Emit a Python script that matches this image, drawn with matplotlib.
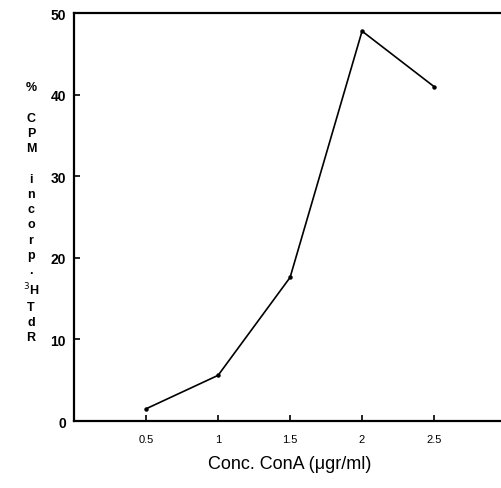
import matplotlib
matplotlib.use("Agg")
import matplotlib.pyplot as plt

# ConA dose response: % CPM incorporation of 3H-TdR
conc = [0.5, 1.0, 1.5, 2.0, 2.5]
cpm_pct = [1.5, 5.6, 17.6, 47.8, 41.0]
xticks = [0.5, 1, 1.5, 2, 2.5]
xtick_labels = ["0.5", "1", "1.5", "2", "2.5"]
yticks = [0, 10, 20, 30, 40, 50]
ylabel_chars = ["%", "", "C", "P", "M", "", "i", "n", "c", "o", "r", "p", ".",
                "$^{3}$H", "T", "d", "R"]

plt.rcParams["font.family"] = ["Liberation Sans", "DejaVu Sans"]

fig = plt.figure(figsize=(5.01, 4.89), dpi=100)
ax = fig.add_axes([0.148, 0.137, 0.862, 0.834])

ax.plot(conc, cpm_pct, color="black", lw=1.2)
ax.plot(conc, cpm_pct, "o", color="black", ms=2.2)

ax.set_xlim(0, 3.0)
ax.set_ylim(0, 50)
ax.set_xticks(xticks)
ax.set_xticklabels(xtick_labels, fontsize=8)
ax.set_yticks(yticks)
ax.set_yticklabels([str(v) for v in yticks], fontsize=10, fontweight="bold")
ax.tick_params(direction="in", length=4, width=1.2, color="black", pad=6)
ax.tick_params(axis="x", pad=9)

for side in ["left", "bottom", "top"]:
    ax.spines[side].set_linewidth(1.6)
ax.spines["right"].set_visible(False)

ax.set_xlabel("Conc. ConA (\u03bcgr/ml)", fontsize=13, labelpad=8)

# stacked upright y label
fig.text(0.062, 0.832, "\n".join(ylabel_chars), fontsize=9, fontweight="bold",
         ha="center", va="top", linespacing=1.36)

fig.savefig("out.png", dpi=100)
